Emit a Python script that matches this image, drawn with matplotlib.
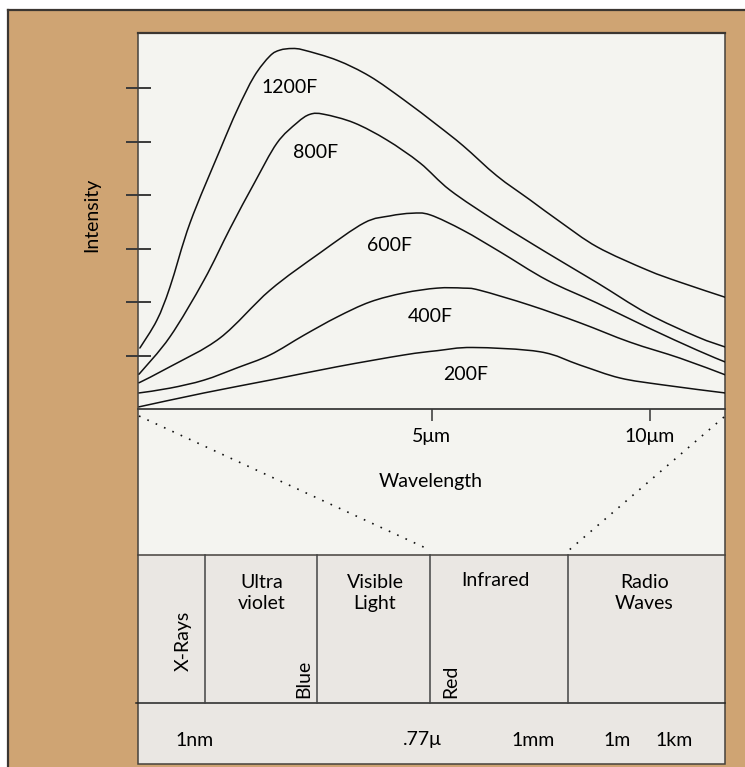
import matplotlib
matplotlib.use("Agg")
import matplotlib.pyplot as plt
from matplotlib.patches import Rectangle, PathPatch
from matplotlib.lines import Line2D
from matplotlib.path import Path

plt.rcParams['font.family'] = ['Lato', 'DejaVu Sans']

W, H = 745, 767

# ---------------- data ----------------
wl_ticks = [5, 10]
wl_tick_labels = ["5μm", "10μm"]
intensity_ticks = [1, 2, 3, 4, 5, 6]

temps = ["1200F", "800F", "600F", "400F", "200F"]

x_1200 = [-1.69, -1.30, -1.00, -0.54, 0.15, 0.54, 0.93, 1.29, 1.52, 1.80, 2.07, 2.83,
          3.58, 4.36, 5.12, 5.72, 6.49, 7.25, 7.94, 8.79, 9.93, 10.69, 11.72]
y_1200 = [1.14, 1.66, 2.28, 3.48, 4.85, 5.59, 6.22, 6.60, 6.71, 6.74, 6.71, 6.52,
          6.22, 5.78, 5.31, 4.92, 4.36, 3.91, 3.50, 3.03, 2.60, 2.37, 2.09]

x_800 = [-1.71, -1.00, -0.22, 0.38, 0.93, 1.45, 1.91, 2.21, 2.53, 3.22, 3.97, 4.73,
         5.42, 6.49, 7.64, 8.79, 9.93, 11.08, 11.72]
y_800 = [0.65, 1.35, 2.41, 3.38, 4.22, 4.97, 5.35, 5.51, 5.51, 5.35, 5.03, 4.60,
         4.09, 3.50, 2.92, 2.36, 1.79, 1.35, 1.16]

x_600 = [-1.71, -1.00, 0.15, 1.29, 2.44, 3.45, 4.04, 4.54, 4.96, 5.72, 6.56, 7.64,
         8.79, 9.93, 11.08, 11.72]
y_600 = [0.49, 0.79, 1.33, 2.22, 2.92, 3.48, 3.61, 3.66, 3.63, 3.34, 2.94, 2.41,
         1.98, 1.53, 1.10, 0.88]

x_400 = [-1.71, -1.00, -0.22, 0.54, 1.29, 2.07, 2.83, 3.58, 4.36, 5.12, 5.72, 6.10,
         7.25, 8.40, 9.54, 10.69, 11.72]
y_400 = [0.30, 0.39, 0.54, 0.77, 1.01, 1.38, 1.72, 2.00, 2.17, 2.26, 2.26, 2.22,
         1.94, 1.61, 1.25, 0.95, 0.64]

x_200 = [-1.71, -0.22, 1.29, 2.83, 4.36, 5.12, 5.94, 7.48, 8.40, 9.31, 10.30, 11.72]
y_200 = [0.04, 0.30, 0.54, 0.79, 1.01, 1.09, 1.15, 1.07, 0.82, 0.58, 0.45, 0.30]

label_x = [1.73, 2.33, 4.03, 4.96, 5.77]
label_y = [6.02, 4.80, 3.05, 1.73, 0.64]

bands = ["X-Rays", "Ultra\nviolet", "Visible\nLight", "Infrared", "Radio\nWaves"]
colour_marks = ["Blue", "Red"]
scale_labels = ["1nm", ".77μ", "1mm", "1m", "1km"]

# ---------------- layout ----------------
TAN = '#CFA473'
PANEL = '#F4F4F0'
GRAY = '#EAE7E3'
EDGE = '#45413c'
FS = 14


def box(l, t, r, b):
    return [l / W, 1 - b / H, (r - l) / W, (b - t) / H]


def smooth_path(xs, ys):
    """Catmull-Rom curve through the read points, drawn as cubic Bezier segments."""
    pts = list(zip(xs, ys))
    verts = [pts[0]]
    codes = [Path.MOVETO]
    n = len(pts)
    for i in range(n - 1):
        p0 = pts[i - 1] if i > 0 else pts[i]
        p1 = pts[i]
        p2 = pts[i + 1]
        p3 = pts[i + 2] if i + 2 < n else pts[i + 1]
        c1 = (p1[0] + (p2[0] - p0[0]) / 6, p1[1] + (p2[1] - p0[1]) / 6)
        c2 = (p2[0] - (p3[0] - p1[0]) / 6, p2[1] - (p3[1] - p1[1]) / 6)
        verts += [c1, c2, p2]
        codes += [Path.CURVE4] * 3
    return Path(verts, codes)


fig = plt.figure(figsize=(W / 100, H / 100), dpi=100)
fig.patch.set_facecolor('white')

ov = fig.add_axes([0, 0, 1, 1])
ov.set_xlim(0, W)
ov.set_ylim(H, 0)
ov.axis('off')
ov.set_zorder(0)

PL, PR, PT, PB = 137.5, 724.5, 33, 764
SPLIT, ROW = 555, 703

ov.add_patch(Rectangle((7.5, 10), W, H, facecolor=TAN, edgecolor='none'))
ov.add_line(Line2D([7.5, 7.5], [10, H], color='#3b3631', lw=1.6))
ov.add_line(Line2D([7.5, W], [10, 10], color='#3b3631', lw=1.6))

ov.add_patch(Rectangle((PL, PT), PR - PL, SPLIT - PT, facecolor=PANEL, edgecolor='none'))
ov.add_patch(Rectangle((PL, SPLIT), PR - PL, PB - SPLIT, facecolor=GRAY, edgecolor='none'))
ov.add_patch(Rectangle((PL, PT), PR - PL, PB - PT, facecolor='none', edgecolor=EDGE, lw=1.1))
ov.add_line(Line2D([PL, PR], [PT, PT], color='#3b3631', lw=1.6))
ov.add_line(Line2D([PL, PR], [SPLIT, SPLIT], color=EDGE, lw=1.1))
ov.add_line(Line2D([136, PR], [ROW, ROW], color='#222222', lw=1.1))
for xd in [205, 316.5, 429.5, 568]:
    ov.add_line(Line2D([xd, xd], [SPLIT, ROW], color='#444444', lw=1.1))

# dotted zoom lines
dot = dict(color='#111111', lw=1.2, linestyle=(0, (1, 4.5)))
ov.add_line(Line2D([139, 430], [416, 550], **dot))
ov.add_line(Line2D([724, 568], [417, 551], **dot))

# band texts
band_cx = [183, 262, 375, 495, 644.5]
for i, name in enumerate(bands):
    if i == 0:
        ov.text(band_cx[i], 641, name, rotation=90, ha='center', va='center', fontsize=FS)
    elif '\n' in name:
        ov.text(band_cx[i], 574, name, ha='center', va='top', fontsize=FS,
                linespacing=1.3)
    else:
        ov.text(band_cx[i], 572, name, ha='center', va='top', fontsize=FS)
mark_x = [304, 451]
for xm, name in zip(mark_x, colour_marks):
    ov.text(xm, 698, name, rotation=90, ha='center', va='bottom', fontsize=FS)

scale_x = [195, 422.5, 533.5, 617, 674.5]
for xs, name in zip(scale_x, scale_labels):
    ov.text(xs, 740, name, ha='center', va='center', fontsize=FS)

ov.text(92, 215, "Intensity", rotation=90, ha='center', va='center', fontsize=FS)
ov.text(431, 481, "Wavelength", ha='center', va='center', fontsize=FS)

# ---------------- plot ----------------
ax = fig.add_axes(box(PL, PT, PR, 409))
ax.set_zorder(1)
ax.patch.set_alpha(0)
ax.set_xlim(-1.744, 11.707)
ax.set_ylim(0, 7.03)
for s in ['top', 'right', 'left']:
    ax.spines[s].set_visible(False)
ax.spines['bottom'].set_color('#3a3a3a')
ax.spines['bottom'].set_linewidth(1.3)

curves = [(x_1200, y_1200), (x_800, y_800), (x_600, y_600), (x_400, y_400), (x_200, y_200)]
for (xs, ys) in curves:
    ax.add_patch(PathPatch(smooth_path(xs, ys), facecolor='none', edgecolor='#111111',
                           lw=1.1, capstyle='round', joinstyle='round'))
for t, lx, ly in zip(temps, label_x, label_y):
    ax.text(lx, ly, t, ha='center', va='center', fontsize=FS)

ax.set_xticks(wl_ticks)
ax.set_xticklabels(wl_tick_labels, fontsize=FS)
ax.tick_params(axis='x', direction='out', length=8.6, width=1.1, color='#333333', pad=5)
ax.set_yticks(intensity_ticks)
ax.tick_params(axis='y', direction='inout', length=18, width=1.4, color='#3a3a3a',
               labelleft=False)

fig.savefig('out.png', dpi=100, facecolor=fig.get_facecolor())
